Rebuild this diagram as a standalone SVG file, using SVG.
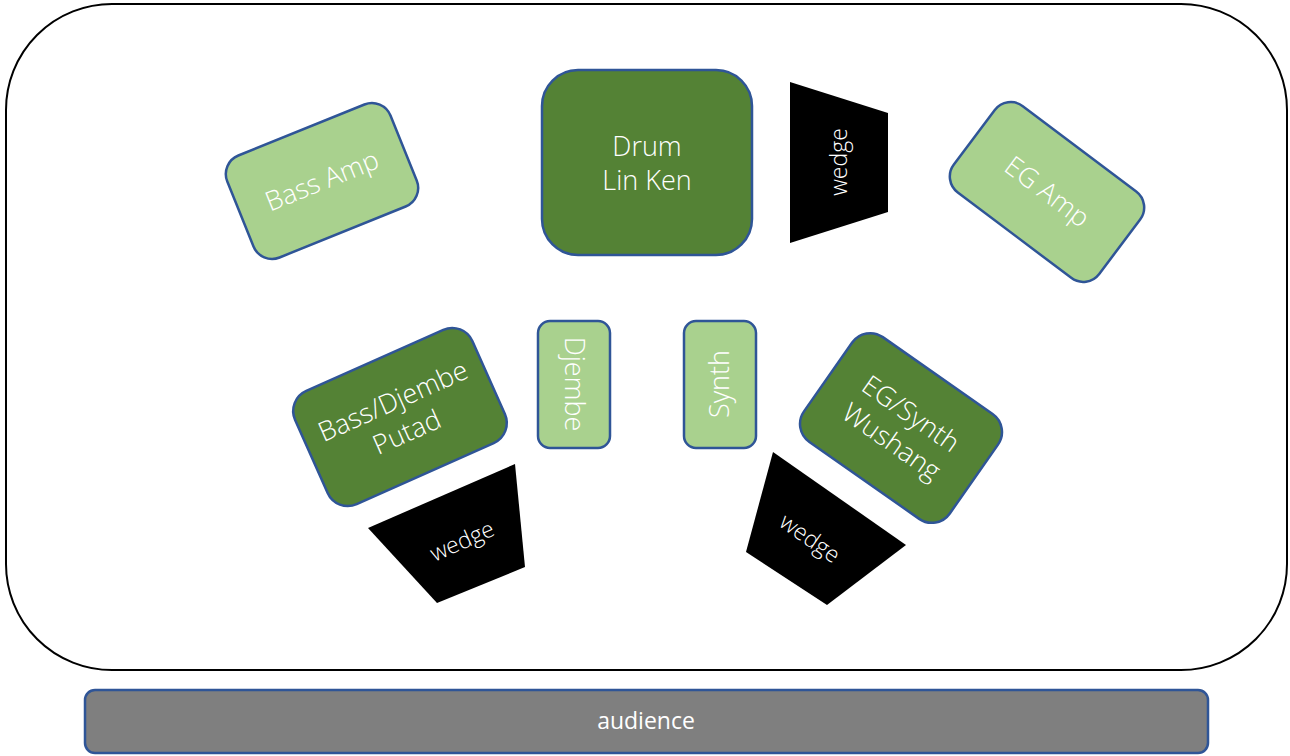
<svg xmlns="http://www.w3.org/2000/svg" width="1290" height="756" viewBox="0 0 1290 756">
<style>
.stage{fill:#fff;stroke:#000;stroke-width:2}
.dk{fill:#548235;stroke:#2F5597;stroke-width:2.5}
.lt{fill:#A9D18E;stroke:#2F5597;stroke-width:2.5}
.wd{fill:#000}
.aud{fill:#7F7F7F;stroke:#2F5597;stroke-width:2.5}
text{font-family:"Open Sans","Liberation Sans",sans-serif;font-weight:300;fill:#fff;text-anchor:middle}
.t26{font-size:27px}
.t22{font-size:23px}
</style>
<rect class="stage" x="6" y="4" width="1281" height="666" rx="106" ry="106"/>
<g id="connectors"/>
<g id="drum">
<rect class="dk" x="542" y="70" width="210" height="185" rx="36"/>
<text class="t26" x="647" y="156">Drum</text>
<text class="t26" x="647" y="190">Lin Ken</text>
</g>
<g id="wedge-top">
<polygon class="wd" points="790,82 888,113 888,212 790,243"/>
<text class="t22" transform="translate(839,162) rotate(-90)" y="8">wedge</text>
</g>
<g id="bass-amp" transform="translate(322,181) rotate(-22)">
<rect class="lt" x="-88" y="-55" width="176" height="110" rx="20"/>
<text class="t26" y="9">Bass Amp</text>
</g>
<g id="eg-amp" transform="translate(1047,192) rotate(37)">
<rect class="lt" x="-91" y="-54" width="182" height="108" rx="20"/>
<text class="t26" y="9">EG Amp</text>
</g>
<g id="bass-djembe" transform="translate(400,417) rotate(-24)">
<rect class="dk" x="-97" y="-62" width="194" height="124" rx="22"/>
<text class="t26" y="-8">Bass/Djembe</text>
<text class="t26" y="26">Putad</text>
</g>
<g id="wedge-bl">
<polygon class="wd" points="368,528 515,464 525,567 437,603"/>
<text class="t22" transform="translate(462,541) rotate(-24)" y="8">wedge</text>
</g>
<g id="djembe">
<rect class="lt" x="538" y="321" width="72" height="127" rx="12"/>
<text class="t26" transform="translate(574,384) rotate(90)" y="9">Djembe</text>
</g>
<g id="synth">
<rect class="lt" x="684" y="321" width="72" height="127" rx="12"/>
<text class="t26" transform="translate(720,384) rotate(-90)" y="9">Synth</text>
</g>
<g id="eg-synth" transform="translate(901,428) rotate(35)">
<rect class="dk" x="-89" y="-64" width="178" height="128" rx="22"/>
<text class="t26" y="-8">EG/Synth</text>
<text class="t26" y="26">Wushang</text>
</g>
<g id="wedge-br">
<polygon class="wd" points="773,452 906,545 827,605 746,552"/>
<text class="t22" transform="translate(810,538) rotate(35)" y="8">wedge</text>
</g>
<g id="audience">
<rect class="aud" x="85" y="690" width="1123" height="63" rx="10"/>
<text class="t22" x="646" y="729" style="font-weight:400">audience</text>
</g>
</svg>
